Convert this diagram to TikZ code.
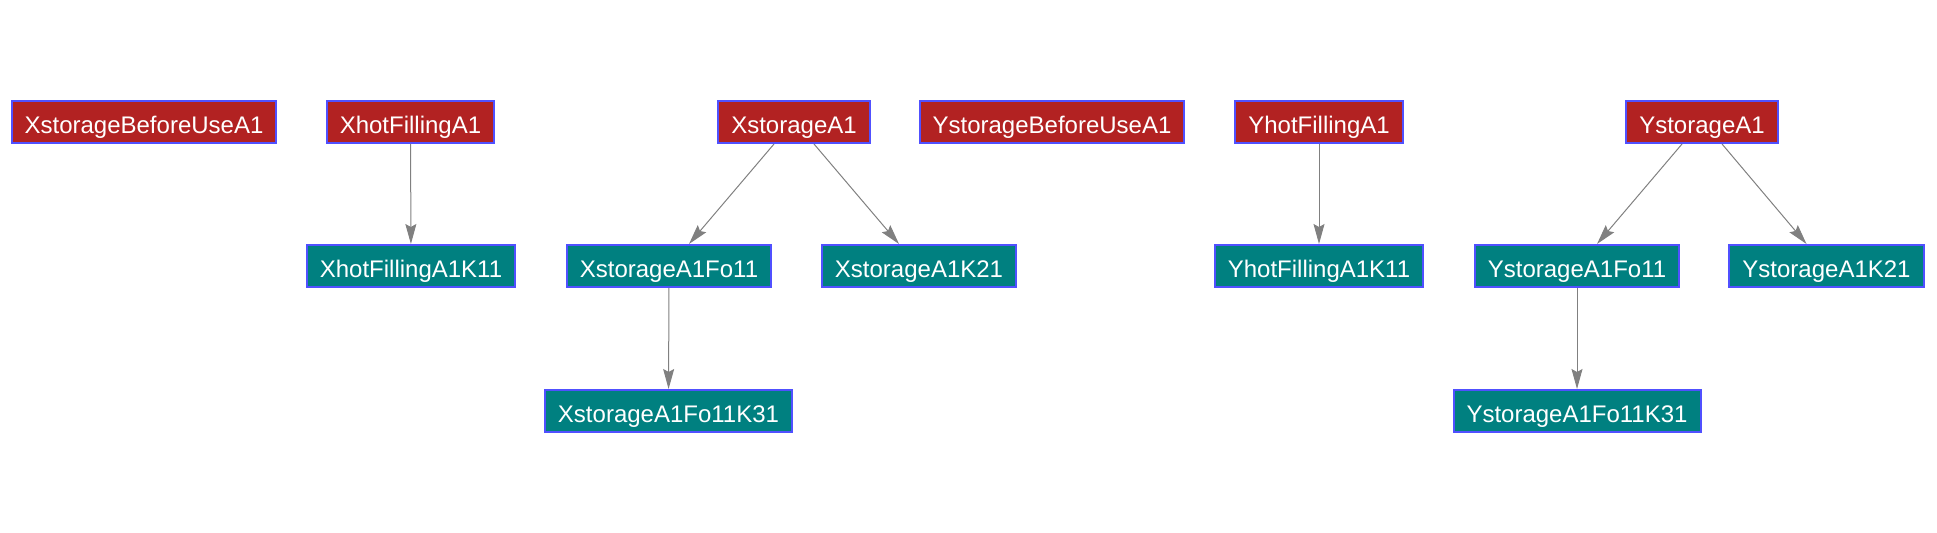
\documentclass[tikz,border=0pt]{standalone}
\usepackage{fontspec}
\setmainfont{Liberation Sans}
\usepackage{tikz}
\usetikzlibrary{arrows.meta, positioning}
\usepackage{xcolor}
\definecolor{rootcol}{RGB}{178,34,34}
\definecolor{leafcol}{RGB}{0,128,128}
\definecolor{edgecol}{RGB}{80,80,255}
\definecolor{arrcol}{RGB}{128,128,128}

\begin{document}
\begin{tikzpicture}[
    x=0.5pt, y=-0.5pt,
    every node/.style={font=\fontsize{12pt}{14pt}\selectfont, text=white, align=center},
    rootbox/.style={rectangle, draw=edgecol, fill=rootcol, line width=1pt, minimum height=21pt, text height=12pt, text depth=0pt, inner xsep=6.5pt, inner ysep=0pt},
    leafbox/.style={rectangle, draw=edgecol, fill=leafcol, line width=1pt, minimum height=21pt, text height=12pt, text depth=0pt, inner xsep=6.5pt, inner ysep=0pt},
    arrow/.style={-{Stealth[length=10pt, width=5.5pt, inset=1.5pt]}, line width=0.5pt, arrcol}
]
\useasboundingbox (0,0) rectangle (1937,533);

% Top row
\node[rootbox] (xbefore) at (144,122) {XstorageBeforeUseA1};
\node[rootbox] (xhot) at (410.5,122) {XhotFillingA1};
\node[rootbox] (xstore) at (794,122) {XstorageA1};
\node[rootbox] (ybefore) at (1052,122) {YstorageBeforeUseA1};
\node[rootbox] (yhot) at (1319,122) {YhotFillingA1};
\node[rootbox] (ystore) at (1702,122) {YstorageA1};

% Second row
\node[leafbox] (xhotk) at (411,266) {XhotFillingA1K11};
\node[leafbox] (xfo) at (669,266) {XstorageA1Fo11};
\node[leafbox] (xk) at (919,266) {XstorageA1K21};
\node[leafbox] (yhotk) at (1319,266) {YhotFillingA1K11};
\node[leafbox] (yfo) at (1577,266) {YstorageA1Fo11};
\node[leafbox] (yk) at (1826.5,266) {YstorageA1K21};

% Third row
\node[leafbox] (xfok) at (668.5,411) {XstorageA1Fo11K31};
\node[leafbox] (yfok) at (1577,411) {YstorageA1Fo11K31};

\draw[arrow] (xhot) -- (xhotk);
\draw[arrow] ([xshift=-10pt]xstore.south) -- ([xshift=10pt]xfo.north);
\draw[arrow] ([xshift=10pt]xstore.south) -- ([xshift=-10pt]xk.north);
\draw[arrow] (xfo) -- (xfok);

\draw[arrow] (yhot) -- (yhotk);
\draw[arrow] ([xshift=-10pt]ystore.south) -- ([xshift=10pt]yfo.north);
\draw[arrow] ([xshift=10pt]ystore.south) -- ([xshift=-10pt]yk.north);
\draw[arrow] (yfo) -- (yfok);
\end{tikzpicture}
\end{document}
